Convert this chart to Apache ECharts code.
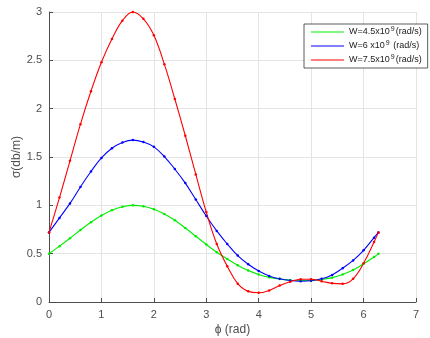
<!DOCTYPE html>
<html>
<head>
<meta charset="utf-8">
<script src="https://cdn.jsdelivr.net/npm/echarts@6/dist/echarts.min.js"></script>
<style>html,body{margin:0;padding:0;background:#fff;}#c{width:430px;height:338px;}</style>
</head>
<body>
<div id="c"></div>
<script>
var phi = [0,0.2,0.4,0.6,0.8,1.0,1.2,1.4,1.6,1.8,2.0,2.2,2.4,2.6,2.8,3.0,3.2,3.4,3.6,3.8,4.0,4.2,4.4,4.6,4.8,5.0,5.2,5.4,5.6,5.8,6.0,6.2,6.283];
var sigmaW45 = [0.50,0.578,0.66,0.745,0.825,0.895,0.95,0.985,1.0,0.99,0.96,0.91,0.845,0.765,0.68,0.595,0.515,0.445,0.38,0.325,0.285,0.255,0.237,0.226,0.221,0.222,0.232,0.252,0.285,0.33,0.395,0.465,0.50];
var sigmaW6 = [0.72,0.87,1.02,1.19,1.35,1.49,1.59,1.65,1.675,1.655,1.605,1.505,1.375,1.23,1.06,0.89,0.735,0.60,0.48,0.39,0.32,0.27,0.24,0.222,0.215,0.22,0.24,0.28,0.35,0.43,0.535,0.665,0.72];
var sigmaW75 = [0.72,1.08,1.46,1.84,2.18,2.48,2.72,2.91,3.0,2.93,2.76,2.46,2.10,1.72,1.32,0.93,0.60,0.37,0.19,0.11,0.095,0.12,0.17,0.21,0.235,0.235,0.215,0.193,0.188,0.24,0.40,0.62,0.72];
var seriesNames = ['W=4.5x10^9 (rad/s)','W=6 x10^9 (rad/s)','W=7.5x10^9 (rad/s)'];
var legendLabels = ['W=4.5x10{sup|9}(rad/s)','W=6 x10{sup|9} (rad/s)','W=7.5x10{sup|9}(rad/s)'];
var xTicks = {min:0,max:7,interval:1};
var yTicks = {min:0,max:3,interval:0.5};

var FONT = 'Liberation Sans, Arial, Helvetica, sans-serif';
function pairs(ys){ return phi.map(function(x,i){ return [x, ys[i]]; }); }
var colors = ['#00ee00','#0000ff','#ff0000'];
var datas = [sigmaW45, sigmaW6, sigmaW75];

var chart = echarts.init(document.getElementById('c'), null, {renderer:'canvas'});
var axisCol = '#4d4d4d';
chart.setOption({
  animation:false,
  backgroundColor:'#fff',
  grid:{left:49,right:14,top:12,bottom:36,containLabel:false,outerBoundsMode:'none'},
  legend:{
    orient:'vertical', left:304, top:24,
    itemWidth:33, itemHeight:1, itemGap:3,
    padding:[2,6,3,7],
    borderColor:'#333', borderWidth:0.8, backgroundColor:'#fff',
    icon:'rect',
    data:seriesNames,
    formatter:function(name){ return legendLabels[seriesNames.indexOf(name)]; },
    textStyle:{fontFamily:FONT,fontSize:9,color:'#222',lineHeight:10,
      rich:{sup:{fontSize:7,fontFamily:FONT,color:'#222',padding:[0,1,5,1]}}}
  },
  xAxis:{
    type:'value', min:xTicks.min, max:xTicks.max, interval:xTicks.interval,
    name:'\u03d5 (rad)', nameLocation:'middle', nameGap:22, nameMoveOverlap:false,
    nameTextStyle:{fontFamily:FONT,fontSize:12,color:axisCol},
    axisLine:{show:true,lineStyle:{color:axisCol,width:1}},
    axisTick:{show:true,inside:true,length:4,lineStyle:{color:axisCol}},
    axisLabel:{fontFamily:FONT,fontSize:11,color:axisCol,margin:7},
    splitLine:{show:true,lineStyle:{color:'#e4e4e4',width:1}}
  },
  yAxis:{
    type:'value', min:yTicks.min, max:yTicks.max, interval:yTicks.interval,
    name:'\u03c3(db/m)', nameLocation:'middle', nameGap:26, nameMoveOverlap:false,
    nameTextStyle:{fontFamily:FONT,fontSize:12,color:axisCol},
    axisLine:{show:true,lineStyle:{color:axisCol,width:1}},
    axisTick:{show:true,inside:true,length:4,lineStyle:{color:axisCol}},
    axisLabel:{fontFamily:FONT,fontSize:11,color:axisCol,margin:7},
    splitLine:{show:true,lineStyle:{color:'#e4e4e4',width:1}}
  },
  series: datas.map(function(d,i){
    return {
      name:seriesNames[i], type:'line', data:pairs(d), smooth:0.4,
      symbol:'circle', symbolSize:2.5, showAllSymbol:true,
      lineStyle:{color:colors[i],width:1.1},
      itemStyle:{color:colors[i]},
      emphasis:{disabled:true}
    };
  })
});
</script>
</body>
</html>
